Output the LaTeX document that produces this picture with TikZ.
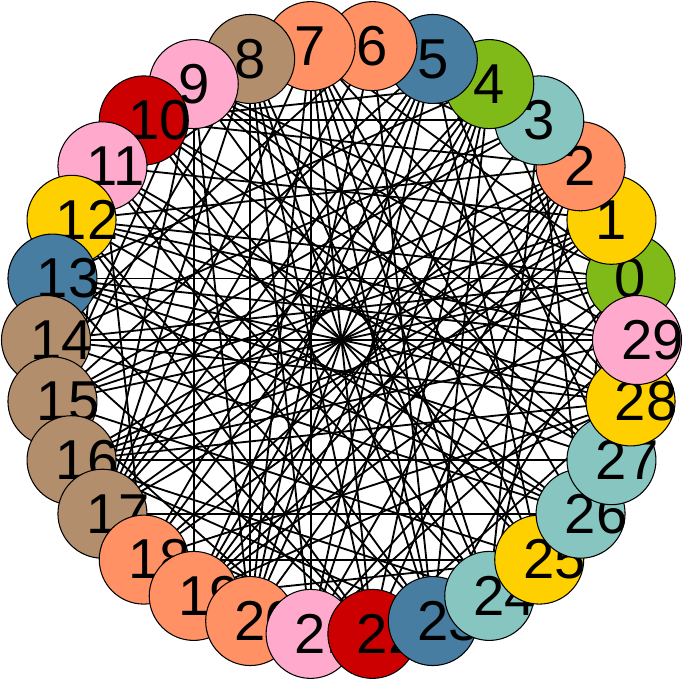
\documentclass[tikz,border=0pt]{standalone}
\usepackage{fontspec}
\setmainfont{Liberation Sans}
\usetikzlibrary{backgrounds}

\definecolor{vgreen}{RGB}{127,186,25}
\definecolor{vgold}{RGB}{255,208,0}
\definecolor{vsalmon}{RGB}{255,145,100}
\definecolor{vteal}{RGB}{134,197,192}
\definecolor{vblue}{RGB}{70,125,160}
\definecolor{vpink}{RGB}{255,170,205}
\definecolor{vred}{RGB}{204,0,0}
\definecolor{vtan}{RGB}{179,142,108}

\tikzset{
	vtx/.style={circle, draw=black, line width=0.6pt, minimum size=1.78cm, inner sep=0pt},
	vlbl/.style={anchor=west, inner sep=0pt, font=\fontsize{32}{32}\selectfont},
	link/.style={line width=1.05pt, black}
}

\begin{document}
\begin{tikzpicture}
			%%%%% START %%%%%
			
			\useasboundingbox (-6.83,-6.82) rectangle (6.83,6.80);
			
			% vertices on the ring, each with its number
			\foreach \i/\c in {0/vgreen,1/vgold,2/vsalmon,3/vteal,4/vgreen,5/vblue,6/vsalmon,7/vsalmon,
				8/vtan,9/vpink,10/vred,11/vpink,12/vgold,13/vblue,14/vtan,15/vtan,16/vtan,17/vtan,
				18/vsalmon,19/vsalmon,20/vsalmon,21/vpink,22/vred,23/vblue,24/vteal,25/vgold,
				26/vteal,27/vteal,28/vgold,29/vpink}{
				\node[vtx, fill=\c] (n\i) at ({12*\i+12}:5.91) {};
				\node[vlbl, xshift=-0.32cm] (t\i) at (n\i.center) {\i};
			}
			
			% edges, grouped by how far apart the two ends are
			\begin{scope}[on background layer]
				\foreach \s/\lst in {15/{0,1,2,4,5,7,8,10,11,13,14},
					14/{0,1,2,4,5,6,7,8,10,12,13,14,16,17,18,19,20,21,23,24,25,27,28,29},
					13/{0,2,4,5,7,8,11,13,16,18,19,21,23,24,27,29},
					12/{0,3,5,8,11,14,16,19,20,22,25,27,28},
					11/{3,6,9,12,16,19,21,23,26,28},
					10/{1,2,5,7,9,12,15,18,22,25,29},
					9/{0,4,8,13,17,19,21,24,28},
					8/{2,6,9,14,16,21,24,27},
					7/{0,3,8,11,16,18,23,26},
					6/{4,9,15,19,22,28},
					5/{2,7,11,17,26},
					4/{3,15,20,29},
					3/{10,16,24},
					2/{12,25},
					1/{14,21}}{
					\foreach \i in \lst {
						\pgfmathtruncatemacro{\j}{mod(\i+\s,30)}
						\draw[link] (n\i.center) -- (n\j.center);
					}
				}
			\end{scope}
			
			%%%%% END %%%%%
\end{tikzpicture}
\end{document}
